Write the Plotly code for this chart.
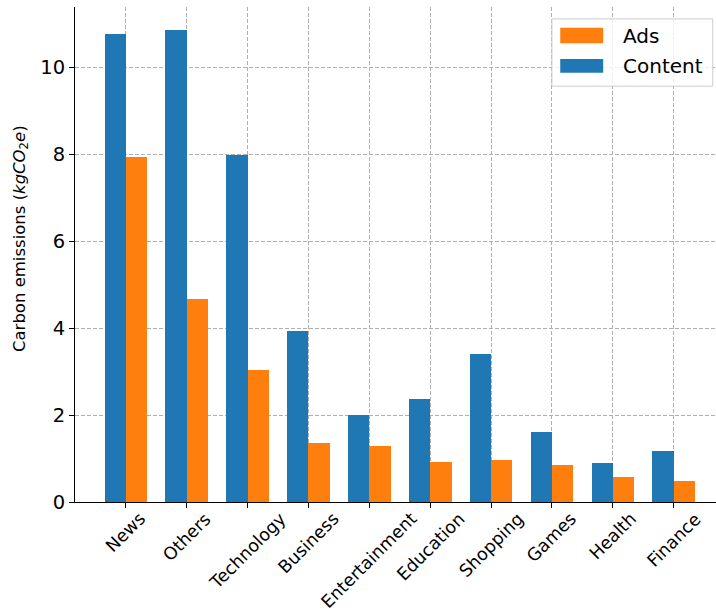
import plotly.graph_objects as go

categories = ["News", "Others", "Technology", "Business", "Entertainment",
              "Education", "Shopping", "Games", "Health", "Finance"]
content = [10.78, 10.85, 7.98, 3.94, 2.00, 2.37, 3.40, 1.61, 0.89, 1.17]
ads = [7.93, 4.67, 3.04, 1.35, 1.28, 0.93, 0.96, 0.85, 0.57, 0.48]
y_ticks = [0, 2, 4, 6, 8, 10]

BLUE = "#1f77b4"
ORANGE = "#ff7f0e"
FONT = "DejaVu Sans"
bar_w = 0.35
idx = list(range(len(categories)))

fig = go.Figure()
fig.add_trace(go.Bar(x=[i - bar_w / 2 for i in idx], y=content, width=bar_w,
                     marker=dict(color=BLUE, line=dict(width=0)), name="Content",
                     showlegend=False))
fig.add_trace(go.Bar(x=[i + bar_w / 2 for i in idx], y=ads, width=bar_w,
                     marker=dict(color=ORANGE, line=dict(width=0)), name="Ads",
                     showlegend=False))

# rotated category labels (centered on ticks like matplotlib)
for i, c in enumerate(categories):
    fig.add_annotation(x=i, y=-0.008, xref="x", yref="paper", text=c,
                       showarrow=False, textangle=-45, xanchor="center",
                       yanchor="top", font=dict(family=FONT, size=17.5, color="black"))

# y-axis label
fig.add_annotation(x=-0.086, y=0.533, xref="paper", yref="paper",
                   text="Carbon emissions (<i>kgCO</i><sub>2</sub><i>e</i>)",
                   showarrow=False, textangle=-90, xanchor="center", yanchor="middle",
                   font=dict(family=FONT, size=16.5, color="black"))

# legend box
fig.add_shape(type="rect", xref="paper", yref="paper", x0=0.744, x1=0.995,
              y0=0.840, y1=0.976, line=dict(color="#cccccc", width=1),
              fillcolor="rgba(255,255,255,0.8)", layer="above")
fig.add_shape(type="rect", xref="paper", yref="paper", x0=0.757, x1=0.824,
              y0=0.927, y1=0.958, line=dict(width=0), fillcolor=ORANGE, layer="above")
fig.add_shape(type="rect", xref="paper", yref="paper", x0=0.757, x1=0.824,
              y0=0.867, y1=0.895, line=dict(width=0), fillcolor=BLUE, layer="above")
fig.add_annotation(x=0.852, y=0.942, xref="paper", yref="paper", text="Ads",
                   showarrow=False, xanchor="left", yanchor="middle",
                   font=dict(family=FONT, size=20, color="black"))
fig.add_annotation(x=0.852, y=0.881, xref="paper", yref="paper", text="Content",
                   showarrow=False, xanchor="left", yanchor="middle",
                   font=dict(family=FONT, size=20, color="black"))

fig.update_layout(
    width=716, height=614,
    margin=dict(l=75, r=0, t=7, b=112),
    plot_bgcolor="white", paper_bgcolor="white",
    font=dict(family=FONT, color="black"),
    bargap=0,
    xaxis=dict(range=[-0.835, 9.695], tickvals=idx,
               showticklabels=False, ticks="outside", ticklen=5, tickcolor="black",
               showline=True, linecolor="black", linewidth=1,
               showgrid=True, gridcolor="#b0b0b0", gridwidth=1, griddash="4px,2px",
               zeroline=False, layer="above traces"),
    yaxis=dict(range=[0, 11.39], tickvals=y_ticks, ticks="outside", ticklen=5,
               tickcolor="black", tickfont=dict(family=FONT, size=19.5),
               showline=True, linecolor="black", linewidth=1,
               showgrid=True, gridcolor="#b0b0b0", gridwidth=1, griddash="4px,2px",
               zeroline=False, layer="above traces"),
)

fig.write_html("out.html")
